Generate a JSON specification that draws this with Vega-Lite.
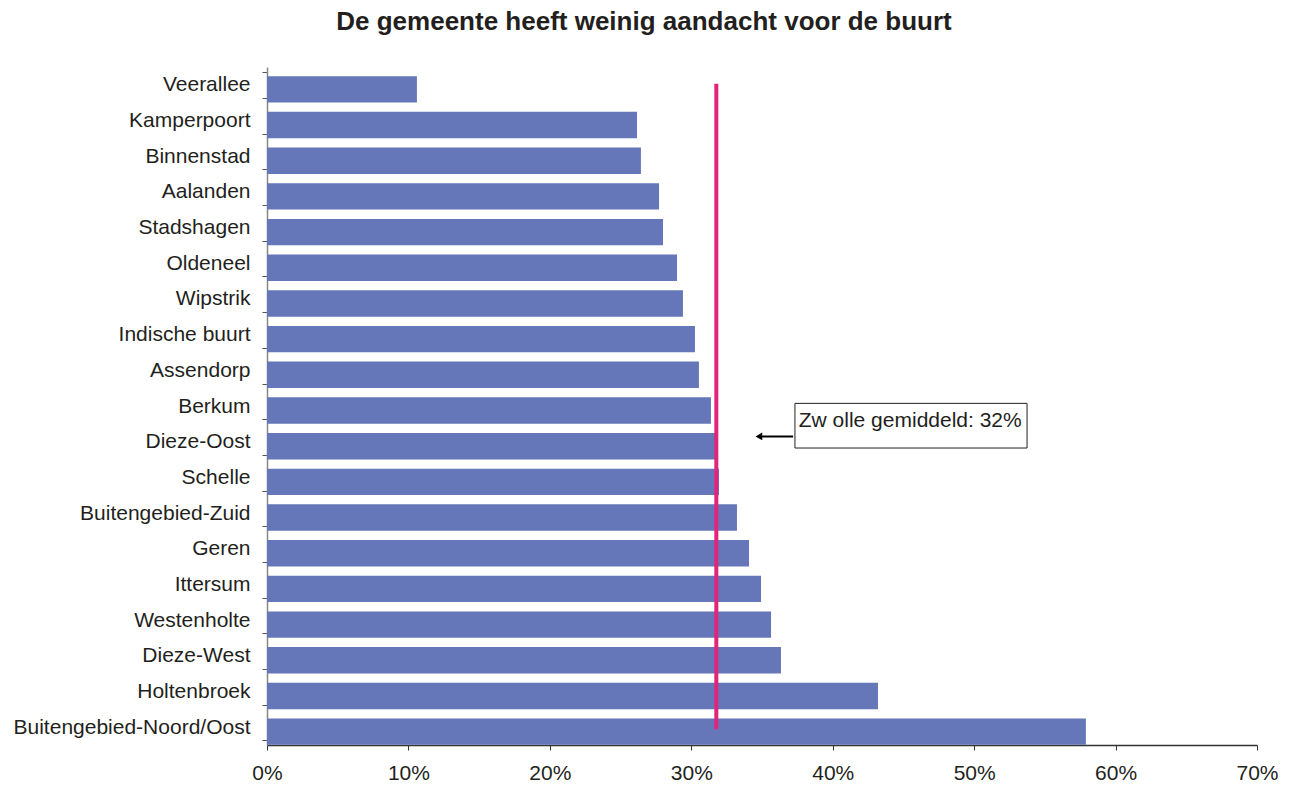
{
  "$schema": "https://vega.github.io/schema/vega-lite/v6.json",
  "width": 990,
  "height": 678,
  "autosize": {"type": "none"},
  "padding": {"left": 267, "top": 67, "right": 38, "bottom": 44},
  "background": "white",
  "title": {
    "text": "De gemeente heeft weinig aandacht voor de buurt",
    "font": "Liberation Sans",
    "fontSize": 26,
    "fontWeight": "bold",
    "color": "#231F20",
    "anchor": "middle",
    "dx": -118,
    "offset": 21
  },
  "config": {
    "view": {"stroke": null},
    "axis": {"labelFont": "Liberation Sans", "labelFontSize": 21, "labelColor": "#231F20", "grid": false, "title": null}
  },
  "layer": [
    {
      "data": {"values": [
        {"buurt": "Veerallee", "pct": 10.6},
        {"buurt": "Kamperpoort", "pct": 26.16},
        {"buurt": "Binnenstad", "pct": 26.44},
        {"buurt": "Aalanden", "pct": 27.72},
        {"buurt": "Stadshagen", "pct": 28.0},
        {"buurt": "Oldeneel", "pct": 28.99},
        {"buurt": "Wipstrik", "pct": 29.41},
        {"buurt": "Indische buurt", "pct": 30.26},
        {"buurt": "Assendorp", "pct": 30.54},
        {"buurt": "Berkum", "pct": 31.39},
        {"buurt": "Dieze-Oost", "pct": 31.7},
        {"buurt": "Schelle", "pct": 31.96},
        {"buurt": "Buitengebied-Zuid", "pct": 33.23},
        {"buurt": "Geren", "pct": 34.08},
        {"buurt": "Ittersum", "pct": 34.93},
        {"buurt": "Westenholte", "pct": 35.64},
        {"buurt": "Dieze-West", "pct": 36.34},
        {"buurt": "Holtenbroek", "pct": 43.2},
        {"buurt": "Buitengebied-Noord/Oost", "pct": 57.9}
      ]},
      "mark": {"type": "bar", "color": "#6577B8", "yOffset": 4.5},
      "encoding": {
        "y": {
          "field": "buurt", "type": "nominal", "sort": null,
          "scale": {"domain": ["Veerallee", "Kamperpoort", "Binnenstad", "Aalanden", "Stadshagen", "Oldeneel", "Wipstrik", "Indische buurt", "Assendorp", "Berkum", "Dieze-Oost", "Schelle", "Buitengebied-Zuid", "Geren", "Ittersum", "Westenholte", "Dieze-West", "Holtenbroek", "Buitengebied-Noord/Oost"], "paddingInner": 0.26, "paddingOuter": 0.13},
          "axis": {"tickBand": "extent", "tickSize": 5, "tickColor": "#555", "domainColor": "#888", "domainWidth": 1.5, "labelPadding": 12, "labelLimit": 400}
        },
        "x": {
          "field": "pct", "type": "quantitative",
          "scale": {"domain": [0, 70]},
          "axis": {"values": [0, 10, 20, 30, 40, 50, 60, 70], "labelExpr": "datum.value + '%'", "labelFlush": false, "tickSize": 5, "tickColor": "#333", "domainColor": "#333", "domainWidth": 1.5, "labelPadding": 12}
        }
      }
    },
    {
      "data": {"values": [{"mean": 31.77, "from": "Veerallee", "to": "Buitengebied-Noord/Oost"}]},
      "mark": {"type": "rule", "color": "#E0257A", "strokeWidth": 4},
      "encoding": {
        "x": {"field": "mean", "type": "quantitative"},
        "y": {"field": "from", "type": "nominal", "bandPosition": 0.46},
        "y2": {"field": "to", "bandPosition": 0.58}
      }
    },
    {
      "data": {"values": [{"x1": 37.33, "x2": 53.74, "top": "Berkum", "bottom": "Dieze-Oost"}]},
      "mark": {"type": "rect", "fill": "white", "stroke": "#231F20", "strokeWidth": 1},
      "encoding": {
        "x": {"field": "x1", "type": "quantitative"},
        "x2": {"field": "x2"},
        "y": {"field": "top", "type": "nominal", "bandPosition": 0.4},
        "y2": {"field": "bottom", "bandPosition": 0.74}
      }
    },
    {
      "data": {"values": [{"x": 37.6, "row": "Berkum", "label": "Zw olle gemiddeld: 32%"}]},
      "mark": {"type": "text", "align": "left", "baseline": "middle", "font": "Liberation Sans", "fontSize": 21, "color": "#231F20"},
      "encoding": {
        "x": {"field": "x", "type": "quantitative"},
        "y": {"field": "row", "type": "nominal", "bandPosition": 1.05},
        "text": {"field": "label"}
      }
    },
    {
      "data": {"values": [{"a": 34.9, "b": 37.2, "row": "Dieze-Oost"}]},
      "mark": {"type": "rule", "color": "black", "strokeWidth": 2},
      "encoding": {
        "x": {"field": "a", "type": "quantitative"},
        "x2": {"field": "b"},
        "y": {"field": "row", "type": "nominal", "bandPosition": 0.3}
      }
    },
    {
      "data": {"values": [{"a": 34.78, "row": "Dieze-Oost"}]},
      "mark": {"type": "point", "shape": "triangle-left", "filled": true, "color": "black", "size": 60, "opacity": 1},
      "encoding": {
        "x": {"field": "a", "type": "quantitative"},
        "y": {"field": "row", "type": "nominal", "bandPosition": 0.3}
      }
    }
  ]
}
